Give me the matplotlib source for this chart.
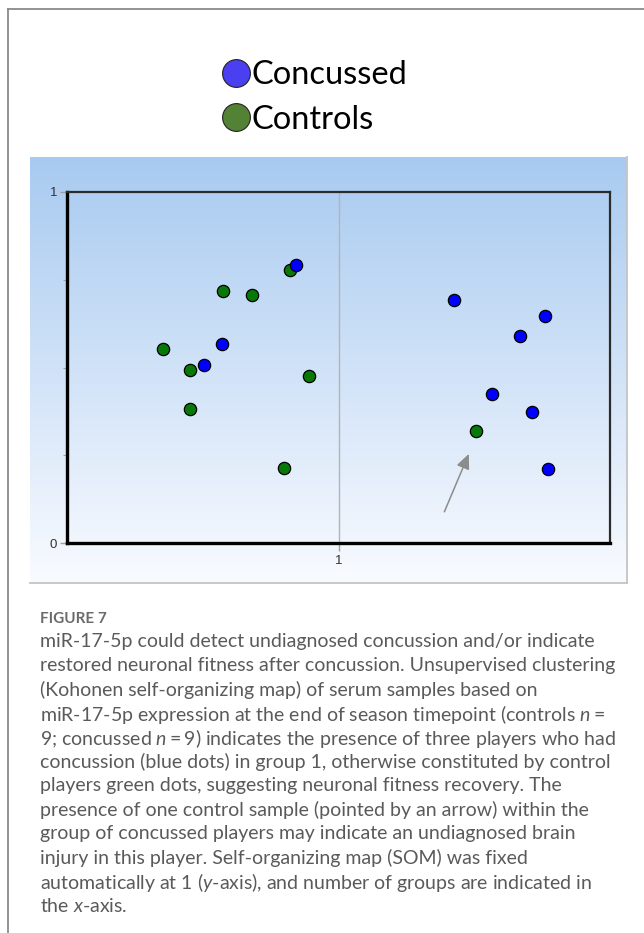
import numpy as np
import matplotlib
matplotlib.use("Agg")
import matplotlib.pyplot as plt
from matplotlib.lines import Line2D

plt.rcParams["font.family"] = ["Lato", "DejaVu Sans"]
plt.rcParams["mathtext.fontset"] = "custom"
plt.rcParams["mathtext.rm"] = "Lato"
plt.rcParams["mathtext.it"] = "Lato:italic"

# SOM node coordinates of each serum sample
control_x = [0.352, 0.452, 0.452, 0.576, 0.681, 0.821, 0.890, 0.801, 1.507]
control_y = [0.552, 0.493, 0.381, 0.717, 0.707, 0.778, 0.475, 0.215, 0.320]
concussed_x = [0.504, 0.571, 0.843, 1.425, 1.759, 1.670, 1.566, 1.712, 1.771]
concussed_y = [0.507, 0.567, 0.792, 0.692, 0.648, 0.591, 0.425, 0.372, 0.211]

# arrow pointing at the control sample inside the concussed group
arrow_tail = (1.390, 0.089)
arrow_head = (1.480, 0.254)

group_labels = ["Concussed", "Controls"]

caption_title = "FIGURE 7"
caption_lines = [
    "miR-17-5p could detect undiagnosed concussion and/or indicate",
    "restored neuronal fitness after concussion. Unsupervised clustering",
    "(Kohonen self-organizing map) of serum samples based on",
    "miR-17-5p expression at the end of season timepoint (controls $n =$",
    "9; concussed $n = $9) indicates the presence of three players who had",
    "concussion (blue dots) in group 1, otherwise constituted by control",
    "players green dots, suggesting neuronal fitness recovery. The",
    "presence of one control sample (pointed by an arrow) within the",
    "group of concussed players may indicate an undiagnosed brain",
    "injury in this player. Self-organizing map (SOM) was fixed",
    "automatically at 1 ($y$-axis), and number of groups are indicated in",
    "the $x$-axis.",
]

W, H = 644, 933
fig = plt.figure(figsize=(W / 100, H / 100), dpi=100)
fig.patch.set_facecolor("white")


def fx(x):
    return x / W


def fy(y):
    return 1 - y / H


# outer frame (left and top)
fig.add_artist(Line2D([fx(8), fx(8)], [fy(933), fy(9)], color="#8a8a8a", lw=1.3))
fig.add_artist(Line2D([fx(8), fx(644)], [fy(9), fy(9)], color="#8a8a8a", lw=1.3))

# gradient panel behind the map
bg = fig.add_axes([fx(30), fy(583), (627 - 30) / W, (583 - 157) / H], zorder=0)
top = np.array([168, 202, 240]) / 255
bot = np.array([249, 251, 255]) / 255
t = np.linspace(0, 1, 256)[:, None]
grad = (top[None, :] * (1 - t) + bot[None, :] * t)[:, None, :]
bg.imshow(grad, aspect="auto", extent=[0, 1, 0, 1], origin="upper")
bg.set_xlim(0, 1)
bg.set_ylim(0, 1)
bg.set_xticks([])
bg.set_yticks([])
for s in ["top", "left"]:
    bg.spines[s].set_visible(False)
for s in ["right", "bottom"]:
    bg.spines[s].set_color("#c4c4c4")
    bg.spines[s].set_linewidth(1.3)

# map axes
ax = fig.add_axes([fx(67), fy(543), (610 - 67) / W, (543 - 192) / H], zorder=1)
ax.patch.set_alpha(0)
ax.set_xlim(0, 2)
ax.set_ylim(0, 1)
ax.axvline(1, color="#b4b4b4", lw=1.0, zorder=1)
ax.set_xticks([1])
ax.set_yticks([0, 1])
ax.set_yticks([0.25, 0.5, 0.75], minor=True)
ax.tick_params(axis="both", which="both", direction="out", color="#a0a0a0",
               labelsize=9.5, labelcolor="#333333")
ax.tick_params(axis="x", length=6, width=1.0, pad=3)
ax.tick_params(axis="y", which="major", length=5, width=1.0, pad=2)
ax.tick_params(axis="y", which="minor", length=3, width=0.8)
for lab in ax.get_xticklabels() + ax.get_yticklabels():
    lab.set_fontfamily("Liberation Sans")
for s in ["left", "bottom"]:
    ax.spines[s].set_color("black")
    ax.spines[s].set_linewidth(2.4)
for s in ["top", "right"]:
    ax.spines[s].set_color("#2b2b2b")
    ax.spines[s].set_linewidth(1.6)

ax.scatter(control_x, control_y, s=78, color="#087808", edgecolors="black",
           linewidths=0.9, zorder=3)
ax.scatter(concussed_x, concussed_y, s=78, color="#0000ff", edgecolors="black",
           linewidths=0.9, zorder=4)
ax.annotate("", xy=arrow_head, xytext=arrow_tail,
            arrowprops=dict(arrowstyle="-|>,head_length=0.9,head_width=0.4",
                            color="#8c8c8c", lw=1.1, shrinkA=0, shrinkB=0))

# group legend
handles = [
    Line2D([], [], ls="none", marker="o", markersize=20, markerfacecolor="#4a40f2",
           markeredgecolor="#222222", markeredgewidth=0.8),
    Line2D([], [], ls="none", marker="o", markersize=20, markerfacecolor="#548235",
           markeredgecolor="#222222", markeredgewidth=0.8),
]
fig.legend(handles, group_labels, loc="upper left",
           bbox_to_anchor=(fx(222), fy(60)), frameon=False, fontsize=23.5,
           handlelength=0.85, handletextpad=0.05, labelspacing=0.45,
           borderpad=0, borderaxespad=0)

# caption
fig.text(fx(40), fy(619), caption_title, fontsize=11, color="#6a6a6a",
         fontweight="bold", va="center", ha="left")
for i, line in enumerate(caption_lines):
    fig.text(fx(40), fy(642 + 24 * i), line, fontsize=14.0, color="#5a5a5a",
             va="center", ha="left")

fig.savefig("out.png", dpi=100)
